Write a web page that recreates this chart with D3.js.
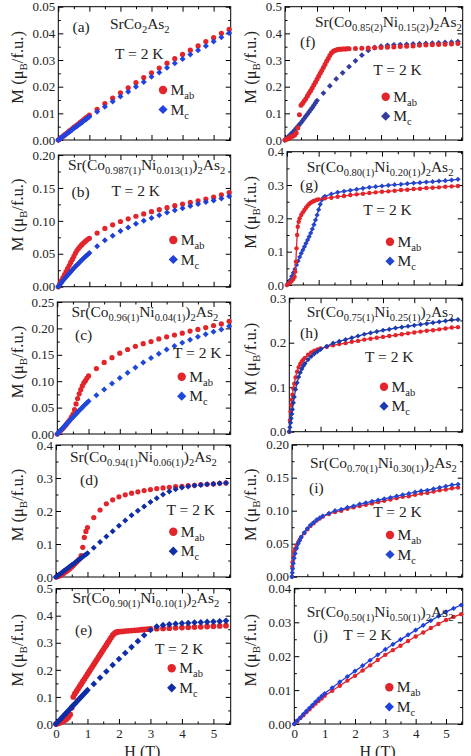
<!DOCTYPE html>
<html><head><meta charset="utf-8">
<script src="https://cdn.jsdelivr.net/npm/d3@7"></script>
<style>
body{margin:0;background:#fff}
svg{display:block}
text{font-family:"Liberation Serif","Times New Roman",serif;fill:#222}
</style>
</head><body>
<svg id="c" width="471" height="756"></svg>
<script>
// ---------------- DATA ----------------
const xTicks = [0,1,2,3,4,5];
const yTicks_a = [0,0.01,0.02,0.03,0.04,0.05];
const yTicks_b = [0,0.05,0.10,0.15,0.20];
const yTicks_c = [0,0.05,0.10,0.15,0.20,0.25];
const yTicks_d = [0,0.1,0.2,0.3,0.4];
const yTicks_e = [0,0.1,0.2,0.3,0.4,0.5];
const yTicks_f = [0,0.1,0.2,0.3,0.4,0.5];
const yTicks_g = [0,0.1,0.2,0.3,0.4];
const yTicks_h = [0,0.1,0.2,0.3];
const yTicks_i = [0,0.05,0.10,0.15,0.20];
const yTicks_j = [0,0.01,0.02,0.03,0.04];

// field grids (T)
const H_A = [0,0.05,0.1,0.15,0.2,0.25,0.3,0.35,0.4,0.45,0.5,0.55,0.6,0.65,0.7,0.75,0.8,0.85,0.9,0.95,1,
  1.25,1.5,1.75,2,2.25,2.5,2.75,3,3.25,3.5,3.75,4,4.25,4.5,4.75,5,5.25,5.5];
const H_B = [0,0.05,0.1,0.15,0.2,0.25,0.3,0.35,0.4,0.45,0.5,0.55,0.6,0.65,0.7,0.75,0.8,0.85,0.9,0.95,1,
  1.2,1.4,1.6,1.8,2,2.2,2.4,2.6,2.8,3,3.2,3.4,3.6,3.8,4,4.2,4.4,4.6,4.8,5,5.2,5.4];
const H_E = [0,0.05,0.1,0.15,0.2,0.25,0.3,0.35,0.4,0.45,0.5,0.55,0.6,0.65,0.7,0.75,0.8,0.85,0.9,0.95,1,
  1.05,1.1,1.15,1.2,1.25,1.3,1.35,1.4,1.45,1.5,1.55,1.6,1.65,1.7,1.75,1.8,1.85,1.9,1.95,2,
  2.1,2.2,2.3,2.4,2.5,2.6,2.7,2.8,2.9,3,
  3.2,3.4,3.6,3.8,4,4.2,4.4,4.6,4.8,5,5.2,5.4];
const H_F = [0,0.05,0.1,0.15,0.2,0.25,0.3,0.35,0.4,0.45,0.5,0.55,0.6,0.65,0.7,0.75,0.8,0.85,0.9,0.95,1,
  1.05,1.1,1.15,1.2,1.25,1.3,1.35,1.4,1.45,1.5,1.55,1.6,1.65,1.7,1.75,1.8,1.85,1.9,1.95,2,
  2.2,2.4,2.6,2.8,3,3.2,3.4,3.6,3.8,4,4.2,4.4,4.6,4.8,5,5.2,5.4];
const H_G_ab = [0,0.05,0.1,0.15,0.2,0.24,0.26,0.28,0.3,0.32,0.34,0.37,0.4,0.45,0.5,0.55,0.6,0.65,0.7,0.75,0.8,0.85,0.9,0.95,1,
  1.2,1.4,1.6,1.8,2,2.2,2.4,2.6,2.8,3,3.2,3.4,3.6,3.8,4,4.2,4.4,4.6,4.8,5,5.2,5.4];
const H_G_c = [0,0.05,0.1,0.15,0.2,0.25,0.3,0.35,0.4,0.45,0.5,0.55,0.6,0.65,0.7,0.75,0.8,0.85,0.9,0.95,1,1.05,1.1,1.15,
  1.2,1.4,1.6,1.8,2,2.2,2.4,2.6,2.8,3,3.2,3.4,3.6,3.8,4,4.2,4.4,4.6,4.8,5,5.2,5.4];
const H_H = [0,0.02,0.04,0.06,0.08,0.1,0.13,0.16,0.2,0.25,0.3,0.35,0.4,0.45,0.5,0.6,0.7,0.8,0.9,1,
  1.2,1.4,1.6,1.8,2,2.2,2.4,2.6,2.8,3,3.2,3.4,3.6,3.8,4,4.2,4.4,4.6,4.8,5,5.2,5.4];
const H_I = [0,0.01,0.02,0.04,0.07,0.1,0.15,0.2,0.25,0.3,0.4,0.5,0.6,0.7,0.8,0.9,1,
  1.2,1.4,1.6,1.8,2,2.2,2.4,2.6,2.8,3,3.2,3.4,3.6,3.8,4,4.2,4.4,4.6,4.8,5,5.2,5.4];
const H_J = [0,0.1,0.2,0.3,0.4,0.5,0.6,0.7,0.8,0.9,1,1.25,1.5,1.75,2,2.25,2.5,2.75,3,3.25,3.5,3.75,4,4.25,4.5,4.75,5,5.25,5.5];

// magnetization (muB/f.u.)
const a_ab = [0,0.0005,0.0009,0.0014,0.0019,0.0023,0.0028,0.0033,0.0037,0.0042,0.0047,0.0051,0.0056,0.006,0.0065,0.007,0.0074,0.0079,0.0084,0.0088,0.0093,
  0.0115,0.0137,0.0157,0.0177,0.0196,0.0215,0.0234,0.0252,0.027,0.0288,0.0305,0.0321,0.0337,0.0353,0.0369,0.0384,0.04,0.0415];
const a_c = [0,0.0004,0.0009,0.0013,0.0017,0.0022,0.0026,0.003,0.0035,0.0039,0.0044,0.0048,0.0052,0.0057,0.0061,0.0065,0.007,0.0074,0.0078,0.0083,0.0087,
  0.0106,0.0125,0.0144,0.0163,0.0181,0.02,0.0218,0.0237,0.0253,0.0271,0.0288,0.0304,0.0321,0.0337,0.0353,0.0369,0.0385,0.0401];
const b_ab = [0,0.0046,0.0092,0.0138,0.0184,0.023,0.0276,0.0322,0.0368,0.0414,0.046,0.0505,0.055,0.058,0.061,0.0635,0.066,0.068,0.07,0.072,0.0735,
  0.0815,0.0885,0.094,0.099,0.103,0.107,0.1105,0.114,0.117,0.12,0.123,0.1255,0.128,0.1305,0.133,0.136,0.1395,0.143];
const b_c = [0,0.003,0.006,0.009,0.012,0.0148,0.0175,0.0202,0.0228,0.0254,0.028,0.0305,0.033,0.0354,0.0378,0.0402,0.0425,0.0448,0.047,0.049,0.051,
  0.0615,0.0705,0.0775,0.0845,0.09,0.0955,0.1,0.1045,0.1085,0.1125,0.116,0.119,0.1225,0.1255,0.1285,0.131,0.134,0.1375];
const c_ab = [0,0.003,0.006,0.009,0.012,0.0155,0.019,0.023,0.027,0.032,0.037,0.046,0.057,0.067,0.076,0.084,0.091,0.097,0.101,0.106,0.11,
  0.124,0.1355,0.1445,0.153,0.16,0.166,0.171,0.175,0.18,0.184,0.1875,0.191,0.195,0.198,0.2015,0.2055,0.2085,0.2135];
const c_c = [0,0.0032,0.0064,0.0096,0.0128,0.016,0.0192,0.0223,0.0255,0.0287,0.0318,0.035,0.038,0.0412,0.0443,0.0473,0.0503,0.0533,0.0563,0.0592,0.062,
  0.0735,0.0845,0.0955,0.106,0.116,0.126,0.1355,0.144,0.152,0.16,0.1665,0.173,0.1785,0.184,0.189,0.1935,0.198,0.204];
const d_ab = [0,0.001,0.003,0.005,0.008,0.011,0.015,0.018,0.022,0.026,0.03,0.035,0.04,0.045,0.05,0.055,0.065,0.09,0.12,0.138,0.15,
  0.18,0.203,0.222,0.234,0.243,0.249,0.254,0.258,0.262,0.265,0.268,0.27,0.272,0.274,0.275,0.277,0.278,0.28,0.281,0.282,0.284,0.285];
const d_c = [0,0.0036,0.0072,0.0108,0.0144,0.018,0.0216,0.0252,0.0288,0.0324,0.036,0.0396,0.0432,0.0468,0.0504,0.054,0.0576,0.0612,0.0648,0.0684,0.072,
  0.089,0.106,0.123,0.139,0.155,0.171,0.187,0.201,0.214,0.227,0.239,0.25,0.259,0.266,0.271,0.274,0.277,0.279,0.281,0.282,0.284,0.285];
const e_ab = [0,0.002,0.004,0.006,0.009,0.012,0.016,0.02,0.026,0.035,0.06,0.1,0.112,0.121,0.13,0.139,0.148,0.157,0.166,0.175,0.184,
  0.193,0.202,0.211,0.22,0.229,0.238,0.247,0.256,0.265,0.274,0.283,0.292,0.301,0.31,0.319,0.328,0.334,0.338,0.34,0.341,
  0.342,0.343,0.344,0.345,0.346,0.347,0.348,0.349,0.35,0.351,
  0.352,0.353,0.354,0.355,0.356,0.357,0.358,0.359,0.36,0.361,0.362,0.363];
const e_c = [0,0.0063,0.0125,0.0188,0.025,0.0313,0.0375,0.0438,0.05,0.0563,0.0625,0.0688,0.075,0.0813,0.0875,0.0938,0.1,0.1063,0.1125,0.1188,0.125,
  0.148,0.171,0.194,0.218,0.24,0.262,0.284,0.306,0.328,0.347,0.36,0.365,0.368,0.37,0.372,0.373,0.375,0.376,0.377,0.378,0.379,0.381];
const f_ab = [0,0.003,0.006,0.009,0.012,0.015,0.019,0.026,0.045,0.095,0.13,0.138,0.146,0.155,0.165,0.175,0.185,0.195,0.206,0.217,0.228,
  0.239,0.25,0.261,0.272,0.283,0.295,0.306,0.317,0.326,0.332,0.336,0.338,0.339,0.34,0.3405,0.341,0.3412,0.3415,0.342,0.342,
  0.343,0.344,0.345,0.346,0.347,0.348,0.349,0.351,0.352,0.353,0.355,0.356,0.357,0.358,0.359,0.36,0.362];
const f_c = [0,0.006,0.012,0.018,0.024,0.03,0.037,0.044,0.051,0.058,0.065,0.073,0.081,0.089,0.097,0.105,0.113,0.121,0.13,0.139,0.148,
  0.176,0.203,0.229,0.252,0.275,0.297,0.318,0.336,0.347,0.352,0.355,0.357,0.358,0.359,0.36,0.361,0.362,0.363,0.364,0.366,0.367,0.369];
const g_ab = [0,0.004,0.008,0.012,0.018,0.025,0.04,0.07,0.11,0.15,0.175,0.19,0.2,0.21,0.218,0.225,0.232,0.238,0.243,0.247,0.25,0.252,0.254,0.256,0.257,
  0.26,0.262,0.265,0.267,0.27,0.272,0.274,0.276,0.278,0.28,0.281,0.283,0.285,0.286,0.288,0.289,0.291,0.292,0.293,0.295,0.296,0.297];
const g_c = [0,0.007,0.015,0.026,0.037,0.048,0.06,0.072,0.084,0.095,0.105,0.115,0.125,0.135,0.145,0.156,0.168,0.181,0.195,0.21,0.226,0.242,0.255,0.262,
  0.266,0.273,0.278,0.281,0.284,0.287,0.29,0.293,0.295,0.297,0.299,0.301,0.302,0.304,0.306,0.307,0.309,0.31,0.312,0.313,0.315,0.317];
const h_ab = [0,0.025,0.045,0.06,0.072,0.083,0.097,0.108,0.122,0.135,0.145,0.152,0.158,0.162,0.166,0.173,0.178,0.182,0.185,0.187,
  0.191,0.194,0.197,0.199,0.202,0.204,0.207,0.209,0.211,0.213,0.215,0.217,0.219,0.221,0.223,0.225,0.227,0.228,0.23,0.232,0.234,0.235];
const h_c = [0,0.01,0.02,0.03,0.04,0.05,0.065,0.078,0.095,0.11,0.123,0.133,0.141,0.148,0.153,0.162,0.169,0.175,0.18,0.185,
  0.192,0.199,0.203,0.207,0.211,0.215,0.219,0.222,0.225,0.228,0.23,0.233,0.235,0.237,0.239,0.241,0.243,0.245,0.247,0.249,0.251,0.252];
const i_ab = [0,0.015,0.022,0.03,0.037,0.042,0.047,0.052,0.056,0.06,0.066,0.072,0.077,0.081,0.085,0.088,0.091,
  0.095,0.098,0.1,0.103,0.105,0.107,0.109,0.111,0.113,0.115,0.117,0.119,0.121,0.122,0.124,0.126,0.127,0.129,0.131,0.132,0.134,0.135];
const i_c = [0,0.006,0.012,0.02,0.028,0.035,0.043,0.05,0.055,0.06,0.067,0.073,0.078,0.082,0.086,0.089,0.092,
  0.096,0.1,0.102,0.105,0.107,0.11,0.112,0.114,0.116,0.118,0.12,0.122,0.124,0.126,0.128,0.13,0.131,0.133,0.135,0.137,0.139,0.14];
const j_ab = [0,0.0009,0.0018,0.0026,0.0035,0.0043,0.0052,0.006,0.0068,0.0075,0.0083,0.0098,0.0113,0.0128,0.0142,0.0158,0.0173,0.0189,0.0204,0.0218,0.0231,0.0245,0.0258,0.027,0.0283,0.0295,0.0307,0.0316,0.0324];
const j_c = [0,0.001,0.0019,0.0029,0.0038,0.0047,0.0056,0.0065,0.0074,0.0082,0.009,0.0107,0.0124,0.014,0.0156,0.0172,0.0188,0.0204,0.022,0.0235,0.0249,0.0263,0.0277,0.0291,0.0305,0.0318,0.0331,0.0341,0.0351];

// compound labels: [text, isSubscript]
const titles = {
  a: [["SrCo",0],["2",1],["As",0],["2",1]],
  b: [["Sr(Co",0],["0.987(1)",1],["Ni",0],["0.013(1)",1],[")",0],["2",1],["As",0],["2",1]],
  c: [["Sr(Co",0],["0.96(1)",1],["Ni",0],["0.04(1)",1],[")",0],["2",1],["As",0],["2",1]],
  d: [["Sr(Co",0],["0.94(1)",1],["Ni",0],["0.06(1)",1],[")",0],["2",1],["As",0],["2",1]],
  e: [["Sr(Co",0],["0.90(1)",1],["Ni",0],["0.10(1)",1],[")",0],["2",1],["As",0],["2",1]],
  f: [["Sr(Co",0],["0.85(2)",1],["Ni",0],["0.15(2)",1],[")",0],["2",1],["As",0],["2",1]],
  g: [["Sr(Co",0],["0.80(1)",1],["Ni",0],["0.20(1)",1],[")",0],["2",1],["As",0],["2",1]],
  h: [["Sr(Co",0],["0.75(1)",1],["Ni",0],["0.25(1)",1],[")",0],["2",1],["As",0],["2",1]],
  i: [["Sr(Co",0],["0.70(1)",1],["Ni",0],["0.30(1)",1],[")",0],["2",1],["As",0],["2",1]],
  j: [["Sr(Co",0],["0.50(1)",1],["Ni",0],["0.50(1)",1],[")",0],["2",1],["As",0],["2",1]]
};
const tempLabel = "T = 2 K";

// ---------------- LAYOUT ----------------
const RED = "#e2242b";
const panels = [
  {k:"a", box:[58.3,6.7,230.7,140], yt:yTicks_a, fmt:".2f", ab:[H_A,a_ab], c:[H_A,a_c], blue:"#2143e0",
   t:[110,29], p:[72.5,32], T:[115,59], lg:[163,90], r:2.6, line:false, redTop:false},
  {k:"b", box:[58.3,155,230.7,286.7], yt:yTicks_b, fmt:".2f", ab:[H_A,b_ab], c:[H_A,b_c], blue:"#1f3fd6",
   t:[68,170], p:[71.5,197], T:[111.5,196], lg:[173.3,240], r:2.6, line:false, redTop:false},
  {k:"c", box:[57.3,302,230.7,434], yt:yTicks_c, fmt:".2f", ab:[H_A,c_ab], c:[H_A,c_c], blue:"#1f48dc",
   t:[71.5,316.5], p:[75,340], T:[173,358], lg:[181.7,376.7], r:2.6, line:false, redTop:false},
  {k:"d", box:[56,445,230.7,577], yt:yTicks_d, fmt:".1f", ab:[H_B,d_ab], c:[H_B,d_c], blue:"#0f2ea6",
   t:[70,461.5], p:[80,485], T:[166.5,515], lg:[173.3,531.7], r:2.6, line:false, redTop:false},
  {k:"e", box:[56,588.6,230.7,724], yt:yTicks_e, fmt:".1f", ab:[H_E,e_ab], c:[H_B,e_c], blue:"#0f2ea6",
   t:[72.5,603.3], p:[75,635], T:[155,654], lg:[171.7,668.3], r:2.9, line:false, redTop:false, xl:true},
  {k:"f", box:[285,6.7,462.7,140], yt:yTicks_f, fmt:".1f", ab:[H_F,f_ab], c:[H_B,f_c], blue:"#333d9e",
   t:[315,26.7], p:[300,46.7], T:[373.3,75], lg:[385.7,96.7], r:2.5, line:false, redTop:true},
  {k:"g", box:[287,151.7,462.7,285], yt:yTicks_g, fmt:".1f", ab:[H_G_ab,g_ab], c:[H_G_c,g_c], blue:"#2444cc",
   t:[306.7,171.7], p:[300,190], T:[363.3,215], lg:[390,241.7], r:2.2, line:true, redTop:true},
  {k:"h", box:[289.3,298.2,462.7,431.7], yt:yTicks_h, fmt:".1f", ab:[H_H,h_ab], c:[H_H,h_c], blue:"#1c3cae",
   t:[306.7,316.7], p:[300,338.3], T:[365,361.7], lg:[384,386.7], r:2.2, line:true, redTop:false},
  {k:"i", box:[292,444.7,462.7,576.7], yt:yTicks_i, fmt:".2f", ab:[H_I,i_ab], c:[H_I,i_c], blue:"#2246d2",
   t:[310,468.3], p:[309,493.3], T:[373.3,517.3], lg:[390,535], r:2.2, line:true, redTop:false},
  {k:"j", box:[294.3,588.4,462.7,724], yt:yTicks_j, fmt:".2f", ab:[H_J,j_ab], c:[H_J,j_c], blue:"#1f40dc",
   t:[306.7,616.7], p:[313.3,640], T:[343.3,640], lg:[389.3,687.3], r:2.2, line:true, redTop:false, xl:true}
];

const FS = 15.5, SUB = 10.5, TICKFS = 13;
const svg = d3.select("#c");

function rich(g, x, y, parts, fs, sub) {
  const t = g.append("text").attr("x", x).attr("y", y).attr("font-size", fs);
  let wasSub = false;
  parts.forEach(([s, isSub]) => {
    const ts = t.append("tspan").text(s);
    if (isSub && !wasSub) ts.attr("dy", 4).attr("font-size", sub);
    else if (isSub) ts.attr("font-size", sub);
    else if (!isSub && wasSub) ts.attr("dy", -4);
    wasSub = !!isSub;
  });
  return t;
}
const diamond = s => `M0,${-s}L${s},0L0,${s}L${-s},0Z`;

panels.forEach(P => {
  const [x0, y0, x1, y1] = P.box;
  const x = d3.scaleLinear([0, 5.55], [x0, x1]);
  const ymax = P.yt[P.yt.length - 1];
  const y = d3.scaleLinear([0, ymax], [y1, y0]);
  const g = svg.append("g");

  // minor tick values (midpoints)
  const yMinor = P.yt.slice(1).map((v, i) => (v + P.yt[i]) / 2);
  const xMinor = xTicks.map(v => v + 0.5);

  const styleAxis = a => { a.select(".domain").remove(); a.selectAll("line").attr("stroke", "#000").attr("stroke-width", 1); a.attr("font-family", null).attr("font-size", TICKFS); a.selectAll("text").attr("fill", "#222"); };

  g.append("g").attr("transform", `translate(${x0},0)`)
    .call(d3.axisLeft(y).tickValues(P.yt).tickSize(-5).tickPadding(3).tickFormat(d3.format(P.fmt))).call(styleAxis);
  g.append("g").attr("transform", `translate(${x0},0)`)
    .call(d3.axisLeft(y).tickValues(yMinor).tickSize(-2.5).tickFormat("")).call(styleAxis);
  g.append("g").attr("transform", `translate(${x1},0)`)
    .call(d3.axisRight(y).tickValues(P.yt).tickSize(-5).tickFormat("")).call(styleAxis);
  g.append("g").attr("transform", `translate(${x1},0)`)
    .call(d3.axisRight(y).tickValues(yMinor).tickSize(-2.5).tickFormat("")).call(styleAxis);
  g.append("g").attr("transform", `translate(0,${y1})`)
    .call(d3.axisBottom(x).tickValues(xTicks).tickSize(-5).tickPadding(5).tickFormat(P.xl ? d3.format("d") : "")).call(styleAxis);
  g.append("g").attr("transform", `translate(0,${y1})`)
    .call(d3.axisBottom(x).tickValues(xMinor.filter(v => v < 5.55)).tickSize(-2.5).tickFormat("")).call(styleAxis);
  g.append("g").attr("transform", `translate(0,${y0})`)
    .call(d3.axisTop(x).tickValues(xTicks).tickSize(-5).tickFormat("")).call(styleAxis);
  g.append("g").attr("transform", `translate(0,${y0})`)
    .call(d3.axisTop(x).tickValues(xMinor.filter(v => v < 5.55)).tickSize(-2.5).tickFormat("")).call(styleAxis);

  g.append("rect").attr("x", x0).attr("y", y0).attr("width", x1 - x0).attr("height", y1 - y0)
    .attr("fill", "none").attr("stroke", "#000").attr("stroke-width", 1);

  const ab = P.ab[0].map((h, i) => [h, P.ab[1][i]]);
  const c = P.c[0].map((h, i) => [h, P.c[1][i]]);

  const drawRed = () => {
    if (P.line) g.append("path").datum(ab).attr("d", d3.line().x(d => x(d[0])).y(d => y(d[1])))
      .attr("fill", "none").attr("stroke", RED).attr("stroke-width", 1.3);
    g.append("g").selectAll("circle").data(ab).join("circle")
      .attr("cx", d => x(d[0])).attr("cy", d => y(d[1])).attr("r", P.r).attr("fill", RED);
  };
  const drawBlue = () => {
    if (P.line) g.append("path").datum(c).attr("d", d3.line().x(d => x(d[0])).y(d => y(d[1])))
      .attr("fill", "none").attr("stroke", P.blue).attr("stroke-width", 1.3);
    g.append("g").selectAll("path").data(c).join("path")
      .attr("transform", d => `translate(${x(d[0])},${y(d[1])})`).attr("d", diamond(P.r + 0.4)).attr("fill", P.blue);
  };
  if (P.redTop) { drawBlue(); drawRed(); } else { drawRed(); drawBlue(); }

  // annotations
  rich(g, P.t[0], P.t[1], titles[P.k], FS, SUB);
  g.append("text").attr("x", P.p[0]).attr("y", P.p[1]).attr("font-size", FS).text(`(${P.k})`);
  g.append("text").attr("x", P.T[0]).attr("y", P.T[1]).attr("font-size", FS).text(tempLabel);

  // legend
  const [lx, ly] = P.lg;
  g.append("circle").attr("cx", lx).attr("cy", ly).attr("r", 4.2).attr("fill", RED);
  rich(g, lx + 7.5, ly + 5, [["M",0],["ab",1]], FS, SUB);
  g.append("path").attr("transform", `translate(${lx},${ly + 19.5})`).attr("d", diamond(4.6)).attr("fill", P.blue);
  rich(g, lx + 7.5, ly + 24.5, [["M",0],["c",1]], FS, SUB);

  // y-axis label
  const xl = x0 < 150 ? 23 : 256;
  const lab = g.append("text").attr("transform", `translate(${xl},${(y0 + y1) / 2 - 6}) rotate(-90)`)
    .attr("text-anchor", "middle").attr("font-size", 16.5);
  lab.append("tspan").text("M (μ");
  lab.append("tspan").text("B").attr("font-size", 11).attr("dy", 4);
  lab.append("tspan").text("/f.u.)").attr("dy", -4);

  if (P.xl) {
    g.append("text").attr("x", (x0 + x1) / 2 - 1).attr("y", 757).attr("text-anchor", "middle")
      .attr("font-size", 16).text("H (T)");
  }
});
</script>
</body></html>
